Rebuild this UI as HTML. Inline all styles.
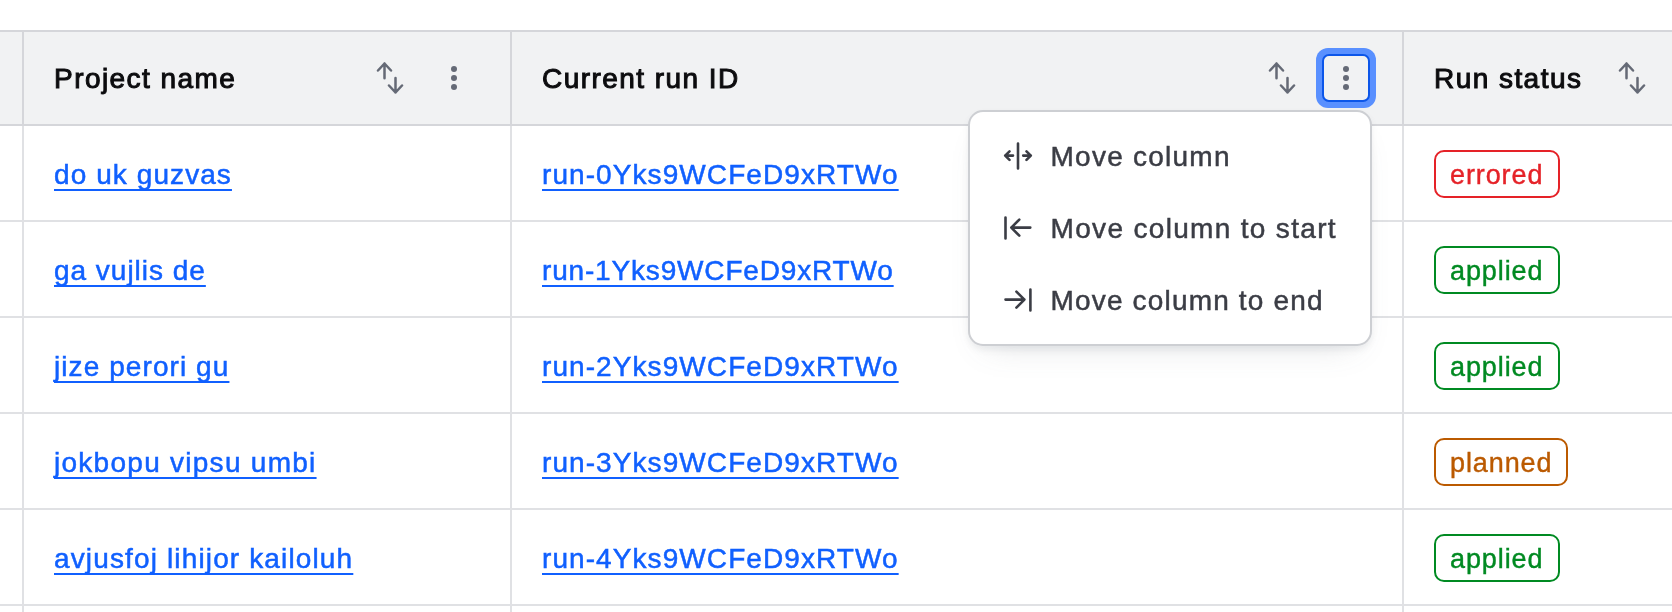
<!DOCTYPE html>
<html>
<head>
<meta charset="utf-8">
<style>
html,body{margin:0;padding:0;width:1672px;height:612px;overflow:hidden;background:#fff;}
body{position:relative;font-family:"Liberation Sans",sans-serif;}
.abs{position:absolute;}
.hdr{position:absolute;left:0;top:30px;width:1672px;height:96px;background:#f1f2f3;}
.hline{position:absolute;left:0;width:1672px;height:2px;}
.vline{position:absolute;width:2px;}
.th{position:absolute;font-weight:400;font-size:28px;line-height:40px;color:#0c0c0e;white-space:nowrap;letter-spacing:1.45px;-webkit-text-stroke:1px #0c0c0e;}
.lnk{position:absolute;font-size:28px;line-height:40px;color:#1060ff;white-space:nowrap;text-decoration:underline;text-decoration-thickness:2px;text-underline-offset:5px;text-decoration-skip-ink:none;letter-spacing:1.08px;-webkit-text-stroke:0.5px #1060ff;}
.badge{position:absolute;box-sizing:border-box;height:48px;border:2px solid;border-radius:10px;font-size:27px;line-height:47px;padding:0 14px;white-space:nowrap;letter-spacing:0.9px;}
.err{color:#e52228;border-color:#e52228;-webkit-text-stroke:0.4px #e52228;}
.ok{color:#008a22;border-color:#008a22;-webkit-text-stroke:0.4px #008a22;}
.warn{color:#bb5a00;border-color:#bb5a00;-webkit-text-stroke:0.4px #bb5a00;}
.icon{position:absolute;}
.menu{position:absolute;left:968px;top:110px;width:404px;height:236px;box-sizing:border-box;background:#fff;border:2px solid #cdcfd3;border-radius:15px;box-shadow:0 4px 6px rgba(101,106,118,0.1),0 16px 32px -20px rgba(101,106,118,0.25);}
.mi{position:absolute;left:80.5px;font-size:28px;line-height:40px;color:#3b3d45;white-space:nowrap;letter-spacing:1.25px;-webkit-text-stroke:0.5px #3b3d45;}
</style>
</head>
<body>
<div id="root" style="position:absolute;left:0;top:0;width:1672px;height:612px;will-change:transform">
<!-- header background -->
<div class="hdr"></div>
<!-- horizontal lines -->
<div class="hline" style="top:30px;background:#d5d6da"></div>
<div class="hline" style="top:124px;background:#d5d6da"></div>
<div class="hline" style="top:220px;background:#e0e1e4"></div>
<div class="hline" style="top:316px;background:#e0e1e4"></div>
<div class="hline" style="top:412px;background:#e0e1e4"></div>
<div class="hline" style="top:508px;background:#e0e1e4"></div>
<div class="hline" style="top:604px;background:#e0e1e4"></div>
<!-- vertical lines header part -->
<div class="vline" style="left:22px;top:32px;height:92px;background:#d5d6da"></div>
<div class="vline" style="left:510px;top:32px;height:92px;background:#d5d6da"></div>
<div class="vline" style="left:1402px;top:32px;height:92px;background:#d5d6da"></div>
<div class="vline" style="left:22px;top:126px;height:486px;background:#e0e1e4"></div>
<div class="vline" style="left:510px;top:126px;height:486px;background:#e0e1e4"></div>
<div class="vline" style="left:1402px;top:126px;height:486px;background:#e0e1e4"></div>

<!-- header texts -->
<div class="th" style="left:54px;top:59px">Project name</div>
<div class="th" style="left:542px;top:59px">Current run ID</div>
<div class="th" style="left:1434px;top:59px">Run status</div>

<!-- sort icons -->
<svg class="icon" style="left:374px;top:62px" width="32" height="32" viewBox="0 0 32 32" fill="none" stroke="#656a76" stroke-width="2.5" stroke-linecap="round" stroke-linejoin="round"><path d="M10.5 16.3V1.5M4 8.5l6.5-7 6.5 7M21.5 16v14.5M15 23.5l6.5 7 6.5-7"/></svg>
<svg class="icon" style="left:1266px;top:62px" width="32" height="32" viewBox="0 0 32 32" fill="none" stroke="#656a76" stroke-width="2.5" stroke-linecap="round" stroke-linejoin="round"><path d="M10.5 16.3V1.5M4 8.5l6.5-7 6.5 7M21.5 16v14.5M15 23.5l6.5 7 6.5-7"/></svg>
<svg class="icon" style="left:1616px;top:62px" width="32" height="32" viewBox="0 0 32 32" fill="none" stroke="#656a76" stroke-width="2.5" stroke-linecap="round" stroke-linejoin="round"><path d="M10.5 16.3V1.5M4 8.5l6.5-7 6.5 7M21.5 16v14.5M15 23.5l6.5 7 6.5-7"/></svg>

<!-- kebab col1 -->
<svg class="icon" style="left:430px;top:54px" width="48" height="48" viewBox="0 0 48 48" fill="#656a76"><circle cx="24" cy="15" r="3"/><circle cx="24" cy="24" r="3"/><circle cx="24" cy="33" r="3"/></svg>
<!-- kebab col2 focused -->
<div class="abs" style="left:1316px;top:48px;width:60px;height:60px;box-sizing:border-box;border-radius:12px;background:#5990ff;"></div>
<div class="abs" style="left:1322px;top:54px;width:48px;height:48px;box-sizing:border-box;border-radius:7px;border:2px solid #0c56e9;background:#f1f2f3;"></div>
<svg class="icon" style="left:1322px;top:54px" width="48" height="48" viewBox="0 0 48 48" fill="#656a76"><circle cx="24" cy="15" r="3"/><circle cx="24" cy="24" r="3"/><circle cx="24" cy="33" r="3"/></svg>

<!-- rows -->
<div class="lnk" style="left:54px;top:155px">do uk guzvas</div>
<div class="lnk" style="left:54px;top:251px;letter-spacing:0.98px">ga vujlis de</div>
<div class="lnk" style="left:54px;top:347px">jize perori gu</div>
<div class="lnk" style="left:54px;top:443px;letter-spacing:1.27px">jokbopu vipsu umbi</div>
<div class="lnk" style="left:54px;top:539px;letter-spacing:1.14px">avjusfoj lihijor kailoluh</div>

<div class="lnk" style="left:542px;top:155px">run-0Yks9WCFeD9xRTWo</div>
<div class="lnk" style="left:542px;top:251px;letter-spacing:0.83px">run-1Yks9WCFeD9xRTWo</div>
<div class="lnk" style="left:542px;top:347px">run-2Yks9WCFeD9xRTWo</div>
<div class="lnk" style="left:542px;top:443px">run-3Yks9WCFeD9xRTWo</div>
<div class="lnk" style="left:542px;top:539px">run-4Yks9WCFeD9xRTWo</div>

<div class="badge err" style="left:1434px;top:150px;width:126px">errored</div>
<div class="badge ok" style="left:1434px;top:246px;width:126px">applied</div>
<div class="badge ok" style="left:1434px;top:342px;width:126px">applied</div>
<div class="badge warn" style="left:1434px;top:438px;width:134px">planned</div>
<div class="badge ok" style="left:1434px;top:534px;width:126px">applied</div>

<!-- dropdown menu -->
<div class="menu">
  <svg class="icon" style="left:32px;top:28px" width="32" height="32" viewBox="0 0 32 32" fill="none" stroke="#3b3d45" stroke-width="2.6" stroke-linecap="round" stroke-linejoin="round"><path d="M16 3.5V28.4M3.2 15.6H11M7.5 11.3L3.2 15.6 7.5 19.9M21.2 15.6H28.8M24.5 11.3l4.3 4.3-4.3 4.3"/></svg>
  <div class="mi" style="top:25px">Move column</div>
  <svg class="icon" style="left:32px;top:100px" width="32" height="32" viewBox="0 0 32 32" fill="none" stroke="#3b3d45" stroke-width="2.6" stroke-linecap="round" stroke-linejoin="round"><path d="M3.5 5.5V26.4M9.3 15.6H28.3M17.3 7.6L9.3 15.6 17.3 23.6"/></svg>
  <div class="mi" style="top:97px;letter-spacing:1.33px">Move column to start</div>
  <svg class="icon" style="left:32px;top:172px" width="32" height="32" viewBox="0 0 32 32" fill="none" stroke="#3b3d45" stroke-width="2.6" stroke-linecap="round" stroke-linejoin="round"><path d="M28.4 5.5V26.4M3.5 15.6H22.4M14.4 7.6L22.4 15.6 14.4 23.6"/></svg>
  <div class="mi" style="top:169px;letter-spacing:1.17px">Move column to end</div>
</div>
</div>
</body>
</html>
